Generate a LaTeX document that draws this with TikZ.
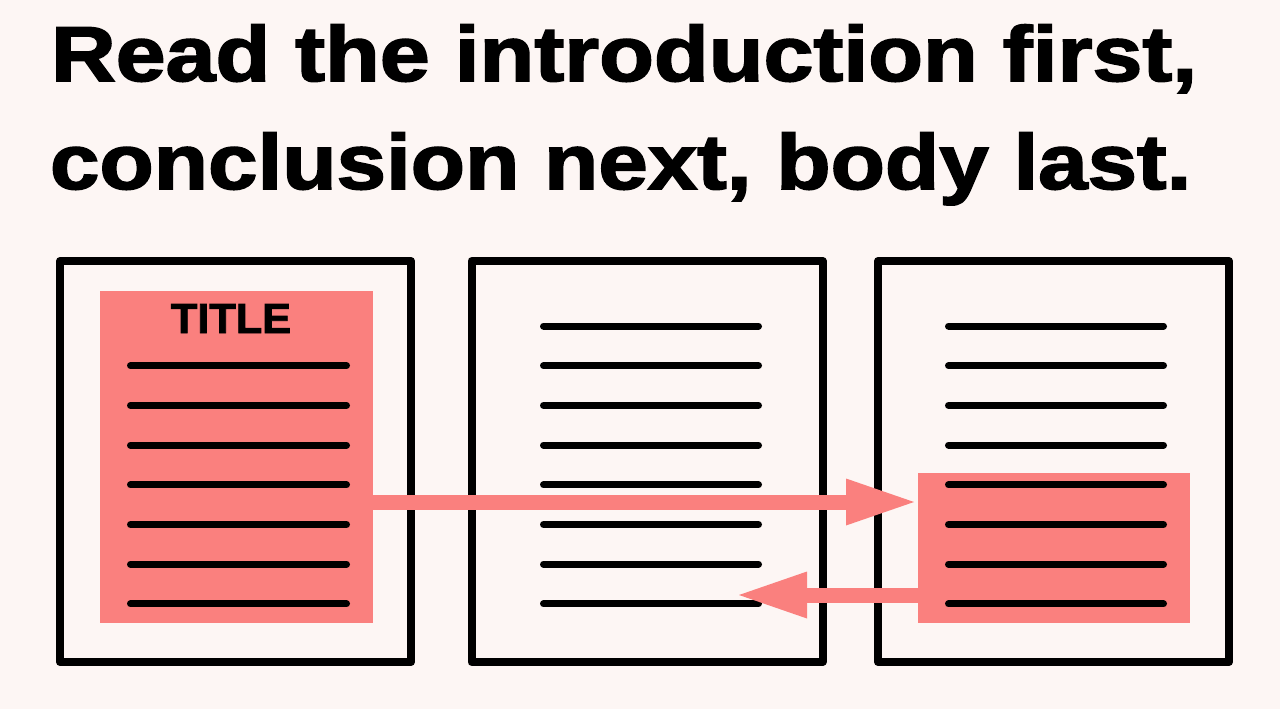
\documentclass[tikz,border=0pt]{standalone}
\usepackage{fontspec}
\setmainfont{Liberation Sans}
\newfontfamily\headfont[BoldFeatures={FakeBold=2}]{Liberation Sans}
\newfontfamily\ttlfont[BoldFeatures={FakeBold=2}]{Liberation Sans}
\definecolor{bgc}{RGB}{253,246,244}
\definecolor{pinkc}{RGB}{250,128,126}
\begin{document}
\begin{tikzpicture}[x=1pt,y=-1pt,
  page/.style={draw=black,line width=8pt,line join=round,fill=none,inner sep=0pt,outer sep=0pt,minimum width=351pt,minimum height=401pt},
  hilite/.style={fill=pinkc,draw=none,inner sep=0pt,outer sep=0pt},
  textline/.style={draw=black,line width=7pt,line cap=round},
  shaft/.style={draw=pinkc,line width=15pt},
  head/.style={fill=pinkc,draw=none},
  headline/.style={anchor=base west,inner sep=0pt,outer sep=0pt}]
\useasboundingbox (0,0) rectangle (1280,709);
\fill[bgc] (0,0) rectangle (1280,709);
% heading
\node[headline] (h1) at (51,81) {\scalebox{1.15}[1]{\fontsize{78}{90}\selectfont\headfont\bfseries Read the introduction first,}};
\node[headline] (h2) at (50,189) {\scalebox{1.14}[1]{\fontsize{78}{90}\selectfont\headfont\bfseries conclusion next, body last.}};
% pages
\node[page] (b1) at (235.5,461.5) {};
\node[page] (b2) at (647,461.5) {};
\node[page] (b3) at (1053.5,461.5) {};
% highlights
\node[hilite,minimum width=273pt,minimum height=332pt] (p1) at (236.5,457) {};
\node[hilite,minimum width=272pt,minimum height=150pt] (p3) at (1054,548) {};
\node[anchor=base,inner sep=0pt] (ttl) at (231,333) {\scalebox{1.03}[1]{\fontsize{42}{50}\selectfont\ttlfont\bfseries TITLE}};
% text lines
\foreach \k in {1,...,7}{
  \draw[textline] (130.5,{326+39.7*\k}) -- (346.5,{326+39.7*\k});
}
\foreach \k in {0,...,7}{
  \draw[textline] (543.5,{326+39.7*\k}) -- (758.5,{326+39.7*\k});
  \draw[textline] (948.5,{326+39.7*\k}) -- (1163.5,{326+39.7*\k});
}
% arrow 1: introduction -> conclusion
\coordinate (t1) at ([yshift=-45pt]p1.east -| p3.west);
\draw[shaft] ([yshift=-45pt]p1.east) -- ([xshift=-60pt]t1);
\fill[head] ([xshift=-4pt]t1) -- ++(-68,23.5) -- ++(0,-47) -- cycle;
% arrow 2: conclusion -> body
\coordinate (t2) at (739,595);
\draw[shaft] ([yshift=-47pt]p3.west) -- ([xshift=60pt]t2);
\fill[head] (t2) -- ++(68,23.5) -- ++(0,-47) -- cycle;
\end{tikzpicture}
\end{document}
